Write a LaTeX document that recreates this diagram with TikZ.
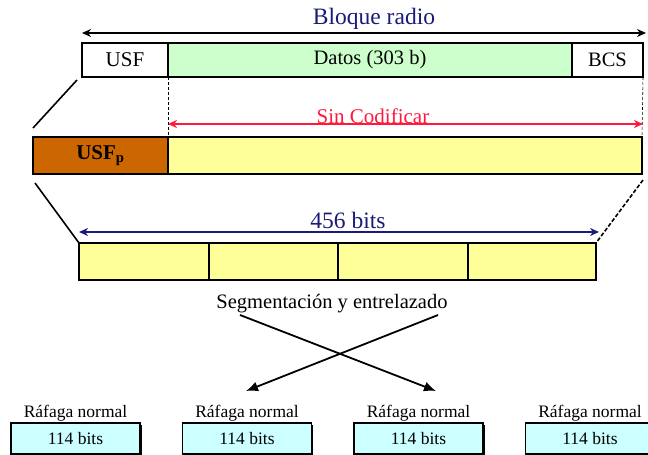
\documentclass[tikz,border=0pt]{standalone}
\usepackage{fontspec}
\setmainfont{Liberation Serif}
\usetikzlibrary{arrows.meta,shadows}
\definecolor{datosgreen}{HTML}{CCFFCC}
\definecolor{baryellow}{HTML}{FFFF99}
\definecolor{usfbrown}{HTML}{CC6600}
\definecolor{burstcyan}{HTML}{CCFFFF}
\definecolor{navytext}{HTML}{1A1A78}
\definecolor{arrowred}{HTML}{FF1A3C}
\begin{document}
\begin{tikzpicture}[x=1pt,y=-1pt,
  box/.style={draw, line width=1.8pt, inner sep=0pt, outer sep=0pt, anchor=north west},
  burst/.style={draw, fill=burstcyan, line width=1.3pt, inner sep=0pt, outer sep=0pt,
     minimum width=129pt, minimum height=31pt,
     drop shadow={shadow xshift=1.8pt, shadow yshift=-1.8pt, fill=black, opacity=1},
     font=\fontsize{17.5}{20}\selectfont},
  blabel/.style={font=\fontsize{17.5}{20}\selectfont, inner sep=0pt},
  dimarrow/.style={line width=2pt, {Stealth[length=9pt,width=8pt]}-{Stealth[length=9pt,width=8pt]}},
  guide/.style={line width=0.6pt, dashed, dash pattern=on 3pt off 2pt},
  slant/.style={line width=1.6pt},
  cross/.style={line width=1.8pt, -{Latex[length=12pt,width=10pt]}}
]
\clip (0,0) rectangle (648,455);
\fill[white] (0,0) rectangle (648,455);

% top block
\node[box, minimum width=86pt, minimum height=34pt, font=\fontsize{21}{24}\selectfont] (usf) at (82,43) {USF};
\node[box, fill=datosgreen, minimum width=404pt, minimum height=34pt, font=\fontsize{20.5}{23}\selectfont] (datos) at (168,43) {Datos (303 b)};
\node[box, minimum width=71pt, minimum height=34pt, font=\fontsize{20.5}{24}\selectfont] (bcs) at (572,43) {BCS};

\coordinate (tl) at (82,33);
\coordinate (tr) at (646,33);
\draw[dimarrow] (tl) -- (tr);
\node[text=navytext, font=\fontsize{23.5}{26}\selectfont, inner sep=0pt] (bloque) at (374,19) {Bloque radio};

% middle bar
\node[box, fill=usfbrown, minimum width=135pt, minimum height=37pt, font=\bfseries\fontsize{21}{25}\selectfont] (usfp) at (33,137) {USF\textsubscript{p}};
\node[box, fill=baryellow, minimum width=474pt, minimum height=37pt] (cod) at (168,137) {};

% guides
\draw[guide] (datos.south west) -- (cod.north west);
\draw[guide] (bcs.south east) -- (cod.north east);
\coordinate (rl) at (168,124);
\coordinate (rr) at (643,124);
\draw[dimarrow, arrowred] (rl) -- (rr);
\node[text=arrowred, font=\fontsize{21}{24}\selectfont, inner sep=0pt] (sincod) at (373,116) {Sin Codificar};

% slanted lines
\coordinate (s1a) at (77,80);
\coordinate (s1b) at (33,128);
\draw[slant] (s1a) -- (s1b);

% bottom bar
\node[box, fill=baryellow, minimum width=130pt, minimum height=37pt] (b1) at (79,243) {};
\node[box, fill=baryellow, minimum width=129pt, minimum height=37pt] (b2) at (209,243) {};
\node[box, fill=baryellow, minimum width=130pt, minimum height=37pt] (b3) at (338,243) {};
\node[box, fill=baryellow, minimum width=128pt, minimum height=37pt] (b4) at (468,243) {};

\coordinate (s2a) at (35,183);
\draw[slant] (s2a) -- (b1.north west);
\coordinate (s3a) at (643,180);
\draw[slant, dashed, dash pattern=on 4pt off 2pt] (s3a) -- (b4.north east);

\coordinate (bl) at (79,232);
\coordinate (br) at (599,232);
\draw[dimarrow, navytext] (bl) -- (br);
\node[text=navytext, font=\fontsize{23.5}{26}\selectfont, inner sep=0pt] (bits) at (348,220) {456 bits};

% segmentation
\node[font=\fontsize{20.5}{24}\selectfont, inner sep=0pt] (seg) at (332,304) {Segmentación y entrelazado};
\coordinate (c1a) at (240,315);
\coordinate (c1b) at (436,391);
\coordinate (c2a) at (438,315);
\coordinate (c2b) at (246,391);
\draw[cross] (c1a) -- (c1b);
\draw[cross] (c2a) -- (c2b);

% bursts
\foreach \i/\cx in {1/75.5, 2/247, 3/418.5, 4/590} {
  \node[burst] (r\i) at (\cx,438.5) {114 bits};
  \node[blabel] (l\i) at (\cx,413) {Ráfaga normal};
}
\end{tikzpicture}
\end{document}
